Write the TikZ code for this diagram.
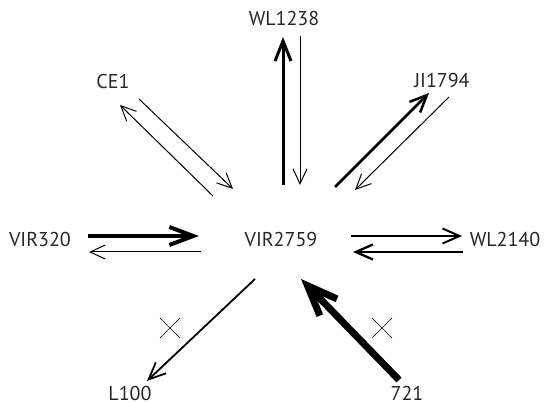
\documentclass[tikz,border=0pt]{standalone}
\usepackage{fontspec}
\setmainfont{PT Sans}
\usetikzlibrary{arrows.meta}

\begin{document}
\begin{tikzpicture}[x=1pt,y=-1pt,
  font=\fontsize{20}{22}\selectfont,
  every node/.style={text=black!85,inner sep=1pt},
  lite/.style={line width=1pt,-{Straight Barb[length=15pt,width=14pt]}},
  mid/.style={line width=2pt,-{Straight Barb[length=17pt,width=15pt]}},
  heavy/.style={line width=3pt,-{Straight Barb[length=20pt,width=16pt]}},
  heavier/.style={line width=4pt,-{Straight Barb[length=24pt,width=18pt]}},
  fat/.style={line width=7pt,-{Straight Barb[length=30pt,width=24pt]}}]
\useasboundingbox (0,0) rectangle (544,403);
\node (vir2759) at (281,240) {VIR2759};
\node (wl1238) at (284,19) {WL1238};
\node (ji1794) at (442,81) {JI1794};
\node (ce1) at (113,82) {CE1};
\node (vir320) at (40,240) {VIR320};
\node (wl2140) at (505,240) {WL2140};
\node (l100) at (130,393.5) {L100};
\node (n721) at (407,393.5) {721};
% arrow ends
\coordinate (a1) at (283,185); \coordinate (a2) at (283,37);
\coordinate (b1) at (300,36);  \coordinate (b2) at (300,185);
\coordinate (c1) at (335,187); \coordinate (c2) at (429,93);
\coordinate (d1) at (449,97);  \coordinate (d2) at (355,190);
\coordinate (e1) at (213,196); \coordinate (e2) at (120,105);
\coordinate (f1) at (139,99);  \coordinate (f2) at (233,189);
\coordinate (g1) at (88,236);  \coordinate (g2) at (199,236);
\coordinate (h1) at (201,252); \coordinate (h2) at (89,252);
\coordinate (i1) at (351,236); \coordinate (i2) at (462,236);
\coordinate (j1) at (463,252); \coordinate (j2) at (353,252);
\coordinate (k1) at (255,279); \coordinate (k2) at (147,381);
\coordinate (m1) at (399,380); \coordinate (m2) at (301,279);
\draw[heavy] (a1) -- (a2);
\draw[lite] (b1) -- (b2);
\draw[mid,line width=2.5pt] (c1) -- (c2);
\draw[lite] (d1) -- (d2);
\draw[lite] (e1) -- (e2);
\draw[lite] (f1) -- (f2);
\draw[heavier] (g1) -- (g2);
\draw[lite] (h1) -- (h2);
\draw[mid] (i1) -- (i2);
\draw[mid,line width=2.3pt] (j1) -- (j2);
\draw[mid,line width=1.8pt] (k1) -- (k2);
\draw[fat] (m1) -- (m2);
% crosses
\foreach \x in {170,382}
  \draw (\x-10,318) -- (\x+10,338) (\x-10,338) -- (\x+10,318);
\end{tikzpicture}
\end{document}
